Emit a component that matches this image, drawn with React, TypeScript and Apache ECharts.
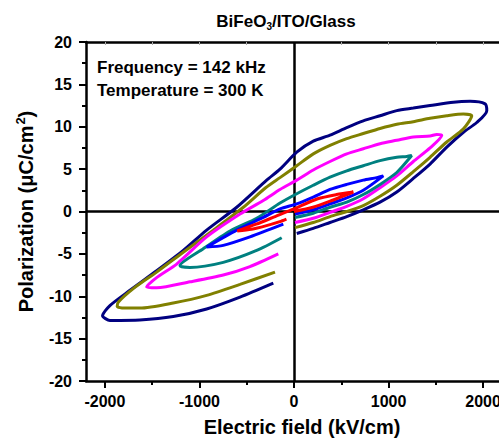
import React, { useEffect, useRef } from "react";
import * as echarts from "echarts";

const FONT = "'Liberation Sans', Arial, Helvetica, sans-serif";

const xTicks = [-2000, -1000, 0, 1000, 2000];
const xMinorTicks = [-1500, -500, 500, 1500];
const xTopTicks = [-2000, -1500, -1000, -500, 0, 500, 1000, 1500, 2000];

// P-E loops: [E (kV/cm), P (uC/cm^2)]
const loopRed: number[][] = [
  [0, 0.0], [200, 0.5], [400, 1.3], [628, 2.3],
  [450, 2.0], [250, 1.5], [0, 0.3], [-200, -0.6], [-400, -1.5], [-600, -2.3],
  [-450, -2.1], [-300, -1.7], [-150, -1.2], [-80, -0.9],
];
const loopBlue: number[][] = [
  [11, -0.3], [204, 0.2], [381, 0.9], [558, 1.6], [733, 2.5], [945, 4.2],
  [875, 4.0], [733, 3.7], [558, 3.2], [381, 2.6], [204, 1.7], [29, 0.9], [-148, 0.3],
  [-325, -0.7], [-606, -2.2], [-924, -4.2],
  [-748, -4.0], [-466, -3.0], [-113, -1.5],
];
const loopTeal: number[][] = [
  [11, -0.7], [204, -0.2], [381, 0.5], [558, 1.1], [733, 2.0], [910, 3.2], [1087, 4.6], [1245, 6.6],
  [1192, 6.5], [1087, 6.4], [910, 6.0], [733, 5.4], [558, 4.8], [381, 4.05], [204, 3.1], [29, 2.1],
  [-148, 1.0], [-395, -0.8], [-677, -2.3], [-960, -4.4], [-1206, -6.4],
  [-1100, -6.6], [-748, -6.0], [-395, -4.6], [-130, -3.1],
];
const loopMagenta: number[][] = [
  [11, -1.3], [204, -0.8], [381, -0.1], [558, 0.6], [733, 1.5], [910, 2.8], [1087, 4.2], [1262, 5.9],
  [1439, 7.5], [1563, 9.0],
  [1510, 9.1], [1439, 8.9], [1262, 8.8], [1087, 8.4], [910, 8.0], [733, 7.4], [558, 6.8], [381, 5.9],
  [204, 4.9], [29, 3.7], [-148, 2.6], [-325, 1.3], [-571, -0.3], [-924, -3.0], [-1241, -6.2],
  [-1453, -7.8], [-1559, -8.9],
  [-1453, -9.0], [-1100, -8.3], [-748, -7.5], [-466, -6.5], [-166, -5.0],
];
const loopOlive: number[][] = [
  [11, -1.9], [204, -1.3], [381, -0.6], [558, 0.0], [733, 0.7], [910, 1.8], [1087, 3.1], [1262, 4.7],
  [1439, 6.4], [1616, 8.2], [1792, 9.75], [1880, 11.3],
  [1792, 11.5], [1616, 11.3], [1439, 11.0], [1262, 10.6], [1087, 10.3], [910, 9.8], [733, 9.2],
  [558, 8.6], [381, 7.8], [204, 6.8], [29, 5.4], [-148, 4.0], [-300, 2.8], [-536, 0.5], [-854, -2.2],
  [-1171, -4.8], [-1453, -7.15], [-1700, -9.1], [-1859, -10.7], [-1870, -11.2],
  [-1800, -11.4], [-1630, -11.4], [-1277, -10.8], [-924, -9.9], [-571, -8.6], [-201, -7.15],
];
const loopNavy: number[][] = [
  [29, -2.6], [204, -2.0], [381, -1.3], [558, -0.6], [733, 0.2], [910, 1.1], [1087, 2.3], [1262, 3.9],
  [1439, 5.6], [1616, 7.6], [1792, 9.35], [1933, 10.5], [2039, 11.9], [2021, 12.7],
  [1862, 13.0], [1686, 12.9], [1439, 12.5], [1262, 12.2], [1087, 11.9], [910, 11.3], [733, 10.7],
  [558, 9.9], [381, 9.0], [204, 8.3], [29, 7.0], [-148, 5.0], [-289, 3.7], [-606, 0.5], [-924, -2.2],
  [-1171, -4.6], [-1453, -7.0], [-1735, -9.3], [-1947, -11.1], [-2025, -12.3],
  [-1947, -12.85], [-1630, -12.8], [-1277, -12.4], [-924, -11.5], [-571, -10.1], [-219, -8.45],
];

const loops = [
  { name: "navy", color: "#000080", data: loopNavy },
  { name: "olive", color: "#808000", data: loopOlive },
  { name: "magenta", color: "#ff00ff", data: loopMagenta },
  { name: "teal", color: "#008080", data: loopTeal },
  { name: "blue", color: "#0000ff", data: loopBlue },
  { name: "red", color: "#ff0000", data: loopRed },
];

export default function App() {
  const ref = useRef<HTMLDivElement>(null);
  useEffect(() => {
    if (!ref.current) return;
    const chart = echarts.init(ref.current, undefined, { renderer: "svg" });
    const bold = { fontFamily: FONT, fontWeight: "bold" as const, color: "#000" };
    const plain = (v: number) => String(v);
    const series: any[] = loops.map((l, i) => ({
      type: "line",
      name: l.name,
      data: l.data,
      xAxisIndex: 0,
      yAxisIndex: 0,
      showSymbol: false,
      smooth: 0.25,
      lineStyle: { color: l.color, width: 3 },
      itemStyle: { color: l.color },
      z: 3 + i,
      ...(i === 0
        ? {
            markLine: {
              silent: true,
              symbol: ["none", "none"],
              label: { show: false },
              lineStyle: { color: "#000", width: 2.5, type: "solid" },
              data: [{ xAxis: 0 }, { yAxis: 0 }],
              z: 1,
            },
          }
        : {}),
    }));
    chart.setOption({
      animation: false,
      backgroundColor: "#fff",
      grid: {
        left: 86,
        top: 42,
        width: 416,
        height: 339,
        containLabel: false,
        outerBoundsMode: "none",
      },
      xAxis: [
        {
          type: "value",
          min: -2200,
          max: 2200,
          position: "bottom",
          axisLine: { onZero: false, lineStyle: { color: "#000", width: 2.5 } },
          axisTick: { customValues: xTicks, length: 7, lineStyle: { color: "#000", width: 2 } },
          axisLabel: { customValues: xTicks, fontSize: 16, margin: 12, formatter: plain, ...bold },
          splitLine: { show: false },
          name: "Electric field (kV/cm)",
          nameLocation: "middle",
          nameGap: 38,
          nameTextStyle: { fontSize: 20, lineHeight: 16, padding: [0, 0, 0, 16], ...bold },
        },
        {
          type: "value",
          min: -2200,
          max: 2200,
          position: "bottom",
          axisLine: { show: false, onZero: false },
          axisTick: { customValues: xMinorTicks, length: 4, lineStyle: { color: "#000", width: 2 } },
          axisLabel: { show: false },
          splitLine: { show: false },
        },
        {
          type: "value",
          min: -2200,
          max: 2200,
          position: "top",
          axisLine: { onZero: false, lineStyle: { color: "#000", width: 2.5 } },
          axisTick: { customValues: xTopTicks, inside: true, length: 3, lineStyle: { color: "#aaa", width: 1 } },
          axisLabel: { show: false },
          splitLine: { show: false },
        },
      ],
      yAxis: [
        {
          type: "value",
          min: -20,
          max: 20,
          interval: 5,
          axisLine: { onZero: false, lineStyle: { color: "#000", width: 2.5 } },
          axisTick: { length: 7, lineStyle: { color: "#000", width: 2 } },
          minorTick: { show: true, splitNumber: 2, length: 4, lineStyle: { color: "#000", width: 2 } },
          axisLabel: { fontSize: 16, margin: 14, formatter: plain, ...bold },
          splitLine: { show: false },
          minorSplitLine: { show: false },
          name: "{a|Polarization (\u03bcC/cm}{sup|2}{a|)}",
          nameLocation: "middle",
          nameRotate: 90,
          nameGap: 48,
          nameTextStyle: {
            ...bold,
            rich: {
              a: { fontSize: 20, fontFamily: FONT, fontWeight: "bold", color: "#000", lineHeight: 24, verticalAlign: "middle" },
              sup: { fontSize: 13, fontFamily: FONT, fontWeight: "bold", color: "#000", lineHeight: 24, verticalAlign: "top", padding: [0, 0, 6, 1] },
            },
          },
        },
      ],
      graphic: [
        {
          type: "text",
          x: 286,
          y: 21,
          style: {
            text: "{a|BiFeO}{s|3}{a|/ITO/Glass}",
            align: "center",
            verticalAlign: "middle",
            rich: {
              a: { fontSize: 17, fontFamily: FONT, fontWeight: "bold", fill: "#000", lineHeight: 20, verticalAlign: "middle" },
              s: { fontSize: 10, fontFamily: FONT, fontWeight: "bold", fill: "#000", lineHeight: 10, verticalAlign: "bottom", padding: [8, 0, 0, 0] },
            },
          },
        },
        {
          type: "text",
          x: 97,
          y: 67,
          style: { text: "Frequency = 142 kHz", fontSize: 17, fontFamily: FONT, fontWeight: "bold", fill: "#000", verticalAlign: "middle" },
        },
        {
          type: "text",
          x: 97,
          y: 90,
          style: { text: "Temperature = 300 K", fontSize: 17, fontFamily: FONT, fontWeight: "bold", fill: "#000", verticalAlign: "middle" },
        },
      ],
      series,
    });
    return () => chart.dispose();
  }, []);
  return (
    <div
      ref={ref}
      style={{ position: "fixed", left: 0, top: 0, width: 499, height: 438, background: "#fff" }}
    />
  );
}
